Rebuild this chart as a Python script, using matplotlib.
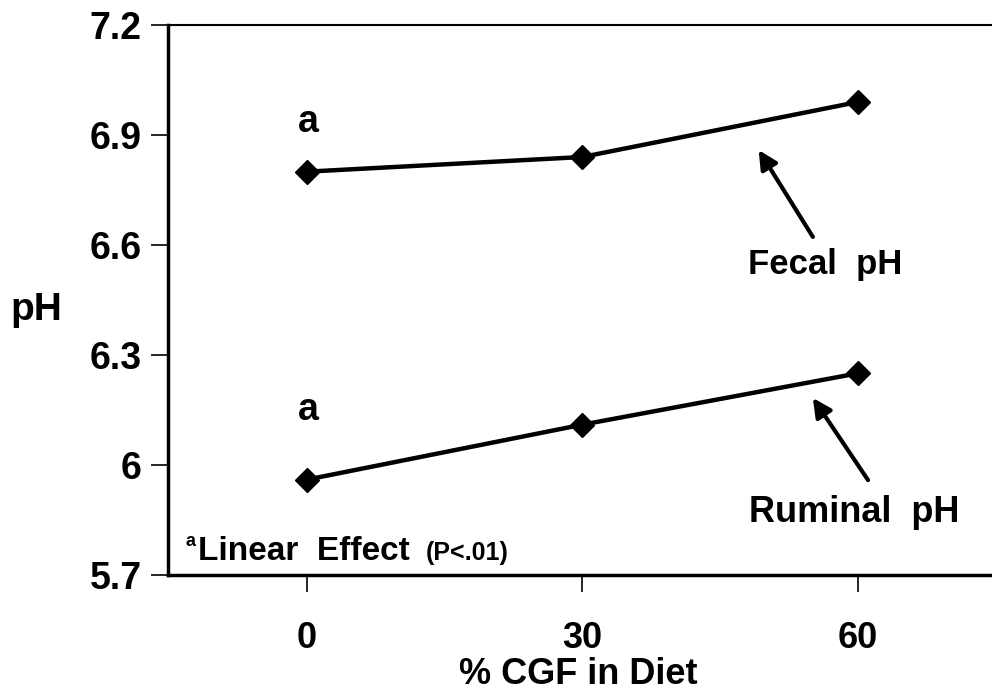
import matplotlib
matplotlib.use("Agg")
import matplotlib.pyplot as plt

# Data
cgf = [0, 30, 60]
fecal_ph = [6.80, 6.84, 6.99]
ruminal_ph = [5.96, 6.11, 6.25]
ytick_vals = [5.7, 6.0, 6.3, 6.6, 6.9, 7.2]
ytick_labels = ["5.7", "6", "6.3", "6.6", "6.9", "7.2"]
xtick_labels = ["0", "30", "60"]

FONT = "Liberation Sans"
plt.rcParams["font.family"] = [FONT, "DejaVu Sans"]
plt.rcParams["font.weight"] = "bold"

fig = plt.figure(figsize=(9.92, 6.92), dpi=100)
W, H = 992, 692
ax = fig.add_axes([168 / W, 1 - 575 / H, 1 - 168 / W, 550 / H])
ax.set_xlim(-15.1, 74.6)
ax.set_ylim(5.7, 7.2)

ax.plot(cgf, fecal_ph, color="black", lw=3.2, marker="D", ms=12, zorder=3)
ax.plot(cgf, ruminal_ph, color="black", lw=3.2, marker="D", ms=12, zorder=3)

ax.spines["right"].set_visible(False)
ax.spines["top"].set_linewidth(1.5)
ax.spines["left"].set_linewidth(2.5)
ax.spines["bottom"].set_linewidth(2.5)

ax.set_yticks(ytick_vals)
ax.set_yticklabels(ytick_labels, fontsize=27, fontweight="bold")
ax.set_xticks(cgf)
ax.set_xticklabels(xtick_labels, fontsize=26, fontweight="bold")
ax.tick_params(axis="y", direction="out", length=12, width=1.2, pad=7)
ax.tick_params(axis="x", direction="out", length=12, width=1.2, pad=21)

fig.text(36 / W, 1 - 310 / H, "pH", fontsize=28, fontweight="bold",
         ha="center", va="center")
fig.text(578 / W, 1 - 674 / H, "% CGF in Diet", fontsize=26,
         fontweight="bold", ha="center", va="center")

# significance letters
ax.text(cgf[0] + 0.2, 6.935, "a", fontsize=27, fontweight="bold",
        ha="center", va="center")
ax.text(cgf[0] + 0.2, 6.150, "a", fontsize=27, fontweight="bold",
        ha="center", va="center")

# series labels and arrows
ax.text(0.797, 0.564, "Fecal  pH", transform=ax.transAxes, fontsize=25,
        fontweight="bold", ha="center", va="center")
ax.annotate("", xy=(49.2, 6.859), xytext=(55.1, 6.622),
            arrowprops=dict(arrowstyle="-|>", lw=3, color="black",
                            mutation_scale=28, shrinkA=0, shrinkB=0))
ax.text(0.833, 0.1145, "Ruminal  pH", transform=ax.transAxes, fontsize=26,
        fontweight="bold", ha="center", va="center")
ax.annotate("", xy=(55.1, 6.183), xytext=(61.1, 5.959),
            arrowprops=dict(arrowstyle="-|>", lw=3, color="black",
                            mutation_scale=28, shrinkA=0, shrinkB=0))

# footnote
ax.text((185 - 168) / 824, (575 - 546) / 550, "a", transform=ax.transAxes,
        fontsize=13, fontweight="bold", ha="left", va="baseline")
ax.text((198 - 168) / 824, (575 - 560) / 550, "Linear  Effect",
        transform=ax.transAxes, fontsize=24, fontweight="bold",
        ha="left", va="baseline")
ax.text((426 - 168) / 824, (575 - 560) / 550, "(P<.01)",
        transform=ax.transAxes, fontsize=18, fontweight="bold",
        ha="left", va="baseline")

fig.savefig("out.png", dpi=100)
